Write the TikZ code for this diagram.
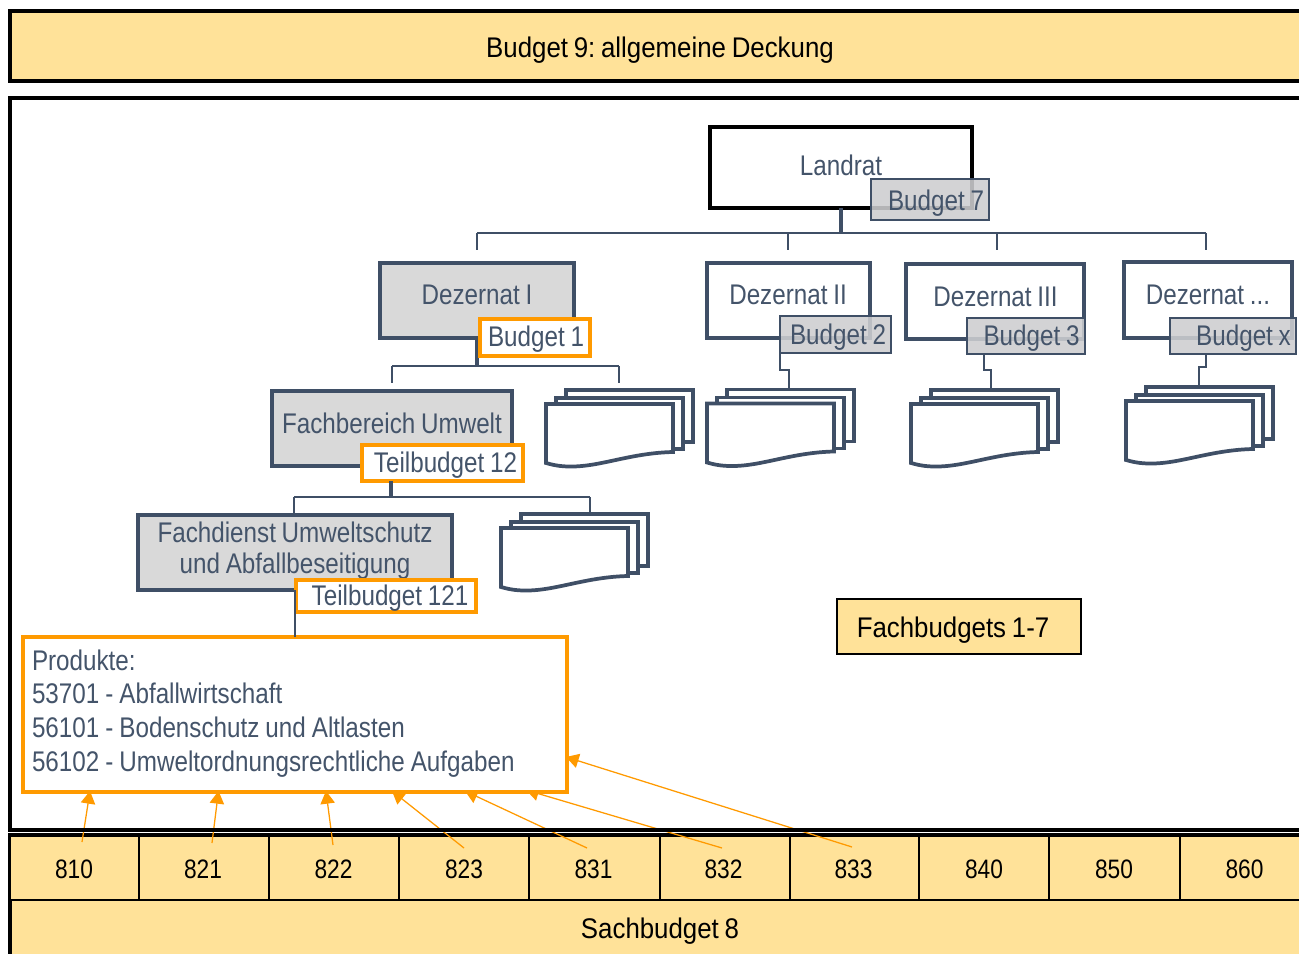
\documentclass[tikz,border=0pt]{standalone}
\usepackage{fontspec}
\setmainfont[FakeStretch=0.91,WordSpace=0.8]{Liberation Sans}
\newfontfamily\slatefont[FakeStretch=0.853,WordSpace=0.85]{Liberation Sans}
\usetikzlibrary{arrows.meta}
\definecolor{slate}{HTML}{3F4F66}
\definecolor{txt}{HTML}{44546A}
\definecolor{sand}{HTML}{FFE299}
\definecolor{org}{HTML}{FF9A00}
\definecolor{greyfill}{HTML}{D9D9D9}
\tikzset{
  base/.style={rectangle,inner sep=0pt,outer sep=0pt,font=\fontsize{21.3}{25}\selectfont},
  sbase/.style={base,font=\slatefont\fontsize{21.3}{25}\selectfont},
  band/.style={base,draw=black,fill=sand,line width=3pt},
  cell/.style={base,draw=black,fill=sand,line width=1.6pt,font=\slatefont\fontsize{20}{24}\selectfont},
  fbox/.style={base,draw=black,fill=sand,line width=1.3pt},
  top/.style={sbase,draw=black,fill=white,line width=3.3pt,text=txt},
  unit/.style={sbase,draw=slate,fill=white,line width=2.6pt,text=txt},
  greyunit/.style={sbase,draw=slate,fill=greyfill,line width=3.2pt,text=txt},
  budgetgrey/.style={sbase,draw=slate,fill=greyfill!92!slate,fill opacity=.88,text opacity=1,line width=2.1pt,text=txt},
  budgetorg/.style={sbase,draw=org,fill=white,line width=2.3pt,text=txt},
  conn/.style={draw=slate,line width=2.15pt},
  connb/.style={draw=slate,line width=2.8pt},
  docline/.style={draw=slate,fill=white,line width=2.8pt},
  feed/.style={draw=org,line width=.95pt,-{Triangle[length=9.5pt,width=10.8pt]}},
}
% name x0 y0 x1 y1 style text-centre-x baseline-y text
\newcommand{\bx}[9]{%
  \pgfmathsetmacro{\mydx}{(#7-(#2+#4)/2)*1.5}%
  \pgfmathsetmacro{\mydy}{((#3+#5)/2-#8)*.75}%
  \node[#6,minimum width={(#4-#2)*.75pt},minimum height={(#5-#3)*.75pt}] (#1) at ({(#2+#4)/2},{(#3+#5)/2})
    {\smash{\raisebox{\mydy pt}{\makebox[0pt]{\hspace*{\mydx pt}#9}}}};}
% name x y dx(connector end)
\newcommand{\docstack}[4]{%
  \path[docline] (#2+20,#3-14) rectangle (#2+147,#3+38);
  \path[docline] (#2+10,#3-6) rectangle (#2+137,#3+45);
  \path[docline] (#2,#3) -- (#2+127,#3) -- (#2+127,#3+48)
     .. controls (#2+84,#3+49) and (#2+54,#3+63) .. (#2+24,#3+62.5)
     .. controls (#2+14,#3+62.5) and (#2+7,#3+61) .. (#2,#3+59) -- cycle;
  \coordinate (#1) at (#2+#4,#3-14);}
\begin{document}
\frenchspacing
\begin{tikzpicture}[x=.75pt,y=-.75pt]
\clip (0,0) rectangle (1299,953);
\fill[white] (0,0) rectangle (1299,953);

% bands
\bx{bud9}{10}{11}{1310}{81}{band}{660}{57}{Budget 9: allgemeine Deckung}
\bx{sach}{10}{834.5}{1310}{960}{band}{660}{938}{Sachbudget 8}
\foreach \n/\a/\b/\t in {810/10/139/74,821/139/269/203,822/269/399/333.5,823/399/529/464,831/529/660/593.5,832/660/790/723.5,833/790/919/853.5,840/919/1049/984,850/1049/1180/1114,860/1180/1310/1244.5}{
  \bx{c\n}{\a}{834.5}{\b}{900}{cell}{\t}{878}{\n}
}
\draw[black,line width=3pt] (sach.north west) -- (sach.north east);

% main frame, white
\fill[white] (10,98) rectangle (1310,829);

% org chart connectors
\coordinate (j0) at (841,233);
\coordinate (bl) at (477,233);
\coordinate (br) at (1206,233);
\coordinate (d1) at (477,250);
\coordinate (d2) at (788,250);
\coordinate (d3) at (997,250);
\coordinate (d4) at (1206,250);
\coordinate (j1) at (477,366);
\coordinate (e1) at (392,366);
\coordinate (e2) at (619,366);
\coordinate (f1) at (392,383);
\coordinate (f2) at (619,383);
\coordinate (j2) at (391,497);
\coordinate (g1) at (294,497);
\coordinate (g2) at (590,497);
\coordinate (h1) at (294,515);
\coordinate (h2) at (590,514);

% stacks of documents
\docstack{s1}{546}{404}{73}
\docstack{s2}{707}{403.5}{82}
\docstack{s3}{911}{404}{80}
\docstack{s4}{1126}{401}{73}
\docstack{s5}{501}{528}{89}

% org units
\bx{land}{710}{127}{972}{208}{top}{841}{175}{Landrat}
\bx{dez1}{380}{263}{574}{338}{greyunit}{477}{304}{Dezernat I}
\bx{dez2}{707}{263}{870}{338}{unit}{788}{304}{Dezernat II}
\bx{dez3}{906}{264}{1084}{339}{unit}{995.5}{306}{Dezernat III}
\bx{dez4}{1124}{262}{1292}{338}{unit}{1208}{304}{Dezernat ...}
\bx{fb}{272}{391}{512}{466}{greyunit}{392}{433}{Fachbereich Umwelt}
\bx{fd}{138}{515}{452}{590}{greyunit}{295}{542}{\begin{tabular}[t]{@{}c@{}}Fachdienst Umweltschutz\\[-1.75pt]und Abfallbeseitigung\end{tabular}}

\draw[connb] (land.south) -- (j0);
\draw[conn] (bl) -- (br);
\draw[conn] (bl) -- (d1);
\draw[conn] (d2 |- bl) -- (d2);
\draw[conn] (d3 |- bl) -- (d3);
\draw[conn] (br) -- (d4);
\draw[connb] (dez1.south) -- (j1);
\draw[conn] (e1) -- (e2);
\draw[conn] (e1) -- (f1);
\draw[conn] (e2) -- (f2);
\draw[conn] (g1) -- (g2);
\draw[conn] (g1) -- (h1);
\draw[conn] (g2) -- (h2);

% budget tags
\bx{b7}{871}{179}{989}{220}{budgetgrey}{936}{210}{Budget 7}
\bx{b2}{780}{316}{891}{353}{budgetgrey}{838}{344}{Budget 2}
\bx{b3}{967}{318}{1085}{354}{budgetgrey}{1031.5}{345}{Budget 3}
\bx{bx}{1170}{318}{1296}{354}{budgetgrey}{1243.5}{345}{Budget x}
\bx{b1}{480}{319}{590}{356}{budgetorg}{536}{346}{Budget 1}
\bx{t12}{362}{445}{523}{481}{budgetorg}{445.5}{472}{Teilbudget 12}
\bx{t121}{296}{580}{476}{612}{budgetorg}{390}{605}{Teilbudget 121}

% feeds run behind the product box
\foreach \n/\sx/\sy/\tx/\ty in {810/82/842/90/791,821/212/843/218.5/791,822/333/845/326/791,823/464/848/392/791,831/587/848/465/791,832/722/848/526/790,833/852/847/566/757}{
  \coordinate (from\n) at (\sx,\sy);
  \coordinate (to\n) at (\tx,\ty);
  \draw[feed] (from\n) -- (to\n);
}

% product box
\node[sbase,draw=org,fill=white,line width=2.3pt,text=txt,minimum width={544*.75pt},minimum height={155*.75pt},align=left,text width={526*.75pt},
  font=\slatefont\fontsize{21.3}{25.2}\selectfont] (prod) at (295,714.5)
  {\raisebox{.4pt}[\height][\depth]{\spaceskip=4.5pt\relax\begin{tabular}{@{}l@{}}Produkte:\\53701 - Abfallwirtschaft\\56101 - Bodenschutz und Altlasten\\56102 - Umweltordnungsrechtliche Aufgaben\end{tabular}}};

% connectors below the tags
\draw[conn] (b2.south west) -- ++(0,17) -| (s2);
\draw[conn] (b3.south west) ++(17,0) coordinate (b3o) -- ++(0,16) -| (s3);
\draw[conn] (bx.south) ++(-27,0) coordinate (bxo) -- ++(0,13) -| (s4);
\draw[connb] (t12.south) ++(-51.5,0) coordinate (t12o) -- (j2);
\draw[conn] (fd.south) -- (prod.north west -| fd.south);

\bx{fach}{837}{599}{1081}{654}{fbox}{953}{637}{Fachbudgets 1-7}

% frame line on top of the feeds
\draw[black,line width=3pt] (1310,98) -- (10,98) -- (10,829.5) -- (1310,829.5);
\end{tikzpicture}
\end{document}
